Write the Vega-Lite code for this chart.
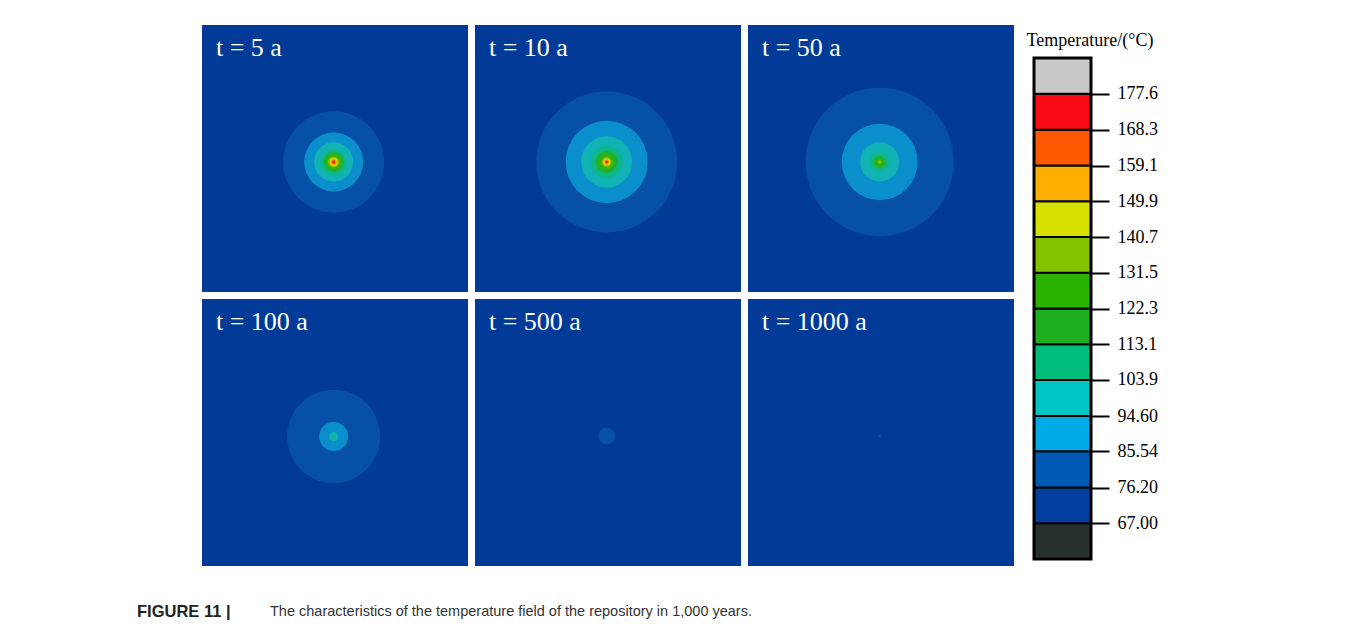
{
  "$schema": "https://vega.github.io/schema/vega-lite/v6.json",
  "background": "white",
  "padding": {"left": 137, "top": 25, "right": 0, "bottom": 0},
  "config": {
    "view": {"stroke": null},
    "header": {"labels": false, "title": null, "labelPadding": 0, "titlePadding": 0, "labelFontSize": 0, "labelColor": "transparent", "labelExpr": "''"},
    "headerFacet": {"labels": false, "title": null, "labelPadding": 0, "titlePadding": 0, "labelFontSize": 0, "labelColor": "transparent", "labelExpr": "''"}
  },
  "spacing": 36,
  "vconcat": [
    {
      "spacing": 12,
      "resolve": {"scale": {"color": "independent"}},
      "hconcat": [
        {
          "width": 53,
          "height": 20,
          "data": {"values": []},
          "mark": "point",
          "encoding": {}
        },
        {
          "data": {
            "values": [
              {"panel": "t = 5 a", "level": "76.20", "cx": -0.01, "cy": -0.026, "d": 0.759},
              {"panel": "t = 5 a", "level": "85.54", "cx": -0.01, "cy": -0.026, "d": 0.444},
              {"panel": "t = 5 a", "level": "94.60", "cx": -0.01, "cy": -0.026, "d": 0.293},
              {"panel": "t = 5 a", "level": "103.9", "cx": -0.01, "cy": -0.026, "d": 0.195},
              {"panel": "t = 5 a", "level": "113.1", "cx": -0.01, "cy": -0.026, "d": 0.150},
              {"panel": "t = 5 a", "level": "122.3", "cx": -0.01, "cy": -0.026, "d": 0.113},
              {"panel": "t = 5 a", "level": "131.5", "cx": -0.01, "cy": -0.026, "d": 0.083},
              {"panel": "t = 5 a", "level": "140.7", "cx": -0.01, "cy": -0.026, "d": 0.060},
              {"panel": "t = 5 a", "level": "149.9", "cx": -0.01, "cy": -0.026, "d": 0.045},
              {"panel": "t = 5 a", "level": "159.1", "cx": -0.01, "cy": -0.026, "d": 0.030},
              {"panel": "t = 5 a", "level": "168.3", "cx": -0.01, "cy": -0.026, "d": 0.019},
              {"panel": "t = 10 a", "level": "76.20", "cx": -0.01, "cy": -0.026, "d": 1.060},
              {"panel": "t = 10 a", "level": "85.54", "cx": -0.01, "cy": -0.026, "d": 0.617},
              {"panel": "t = 10 a", "level": "94.60", "cx": -0.01, "cy": -0.026, "d": 0.383},
              {"panel": "t = 10 a", "level": "103.9", "cx": -0.01, "cy": -0.026, "d": 0.241},
              {"panel": "t = 10 a", "level": "113.1", "cx": -0.01, "cy": -0.026, "d": 0.165},
              {"panel": "t = 10 a", "level": "122.3", "cx": -0.01, "cy": -0.026, "d": 0.113},
              {"panel": "t = 10 a", "level": "131.5", "cx": -0.01, "cy": -0.026, "d": 0.075},
              {"panel": "t = 10 a", "level": "140.7", "cx": -0.01, "cy": -0.026, "d": 0.053},
              {"panel": "t = 10 a", "level": "149.9", "cx": -0.01, "cy": -0.026, "d": 0.038},
              {"panel": "t = 10 a", "level": "159.1", "cx": -0.01, "cy": -0.026, "d": 0.026},
              {"panel": "t = 10 a", "level": "168.3", "cx": -0.01, "cy": -0.026, "d": 0.015},
              {"panel": "t = 50 a", "level": "76.20", "cx": -0.01, "cy": -0.026, "d": 1.113},
              {"panel": "t = 50 a", "level": "85.54", "cx": -0.01, "cy": -0.026, "d": 0.571},
              {"panel": "t = 50 a", "level": "94.60", "cx": -0.01, "cy": -0.026, "d": 0.293},
              {"panel": "t = 50 a", "level": "103.9", "cx": -0.01, "cy": -0.026, "d": 0.150},
              {"panel": "t = 50 a", "level": "113.1", "cx": -0.01, "cy": -0.026, "d": 0.090},
              {"panel": "t = 50 a", "level": "122.3", "cx": -0.01, "cy": -0.026, "d": 0.053},
              {"panel": "t = 50 a", "level": "131.5", "cx": -0.01, "cy": -0.026, "d": 0.026},
              {"panel": "t = 100 a", "level": "76.20", "cx": -0.01, "cy": -0.03, "d": 0.699},
              {"panel": "t = 100 a", "level": "85.54", "cx": -0.01, "cy": -0.03, "d": 0.218},
              {"panel": "t = 100 a", "level": "94.60", "cx": -0.01, "cy": -0.03, "d": 0.068},
              {"panel": "t = 100 a", "level": "103.9", "cx": -0.01, "cy": -0.03, "d": 0.030},
              {"panel": "t = 500 a", "level": "76.20", "cx": -0.01, "cy": -0.026, "d": 0.128},
              {"panel": "t = 1000 a", "level": "76.20", "cx": -0.01, "cy": -0.026, "d": 0.023}
            ]
          },
          "facet": {
            "field": "panel",
            "type": "nominal",
            "sort": ["t = 5 a", "t = 10 a", "t = 50 a", "t = 100 a", "t = 500 a", "t = 1000 a"],
            "header": {"labels": false, "title": null, "labelPadding": 0, "labelFontSize": 0, "labelColor": "transparent", "labelExpr": "''"}
          },
          "columns": 3,
          "spacing": {"row": 7, "column": 7},
          "spec": {
            "width": 266,
            "height": 267,
            "view": {"fill": "#023A98", "stroke": null},
            "layer": [
              {
                "mark": {"type": "point", "shape": "circle", "filled": true, "opacity": 1, "strokeWidth": 0},
                "encoding": {
                  "x": {"field": "cx", "type": "quantitative", "scale": {"domain": [-1, 1], "nice": false, "zero": false}, "axis": null},
                  "y": {"field": "cy", "type": "quantitative", "scale": {"domain": [-1, 1], "nice": false, "zero": false}, "axis": null},
                  "size": {"field": "d", "type": "quantitative", "scale": {"type": "pow", "exponent": 2, "domain": [0, 2], "range": [0, 70756]}, "legend": null},
                  "color": {
                    "field": "level",
                    "type": "nominal",
                    "scale": {
                      "domain": ["76.20", "85.54", "94.60", "103.9", "113.1", "122.3", "131.5", "140.7", "149.9", "159.1", "168.3"],
                      "range": ["#0650A8", "#0A8ECC", "#10B2B6", "#0DB888", "#22B030", "#30B410", "#88C000", "#D8DC00", "#F8A800", "#F85800", "#F01010"]
                    },
                    "legend": null
                  },
                  "order": {"field": "d", "sort": "descending"}
                }
              },
              {
                "transform": [{"aggregate": [{"op": "count", "as": "n"}], "groupby": ["panel"]}],
                "mark": {"type": "text", "align": "left", "baseline": "alphabetic", "font": "Liberation Serif", "fontSize": 26, "color": "white"},
                "encoding": {
                  "x": {"datum": -0.895, "type": "quantitative"},
                  "y": {"datum": 0.768, "type": "quantitative"},
                  "text": {"field": "panel"}
                }
              }
            ]
          }
        },
        {
          "width": 57,
          "height": 534,
          "data": {
            "values": [
              {"band": "57.80", "lo": 57.8, "hi": 67.0},
              {"band": "67.00", "lo": 67.0, "hi": 76.2},
              {"band": "76.20", "lo": 76.2, "hi": 85.54},
              {"band": "85.54", "lo": 85.54, "hi": 94.6},
              {"band": "94.60", "lo": 94.6, "hi": 103.9},
              {"band": "103.9", "lo": 103.9, "hi": 113.1},
              {"band": "113.1", "lo": 113.1, "hi": 122.3},
              {"band": "122.3", "lo": 122.3, "hi": 131.5},
              {"band": "131.5", "lo": 131.5, "hi": 140.7},
              {"band": "140.7", "lo": 140.7, "hi": 149.9},
              {"band": "149.9", "lo": 149.9, "hi": 159.1},
              {"band": "159.1", "lo": 159.1, "hi": 168.3},
              {"band": "168.3", "lo": 168.3, "hi": 177.6},
              {"band": "177.6", "lo": 177.6, "hi": 186.8}
            ]
          },
          "title": {
            "text": "Temperature/(°C)",
            "anchor": "start",
            "dx": -6,
            "offset": -39,
            "baseline": "alphabetic",
            "font": "Liberation Serif",
            "fontSize": 18,
            "fontWeight": "normal",
            "color": "black"
          },
          "layer": [
            {
              "mark": {"type": "rect", "stroke": "black", "strokeWidth": 2},
              "encoding": {
                "x": {"datum": 0, "type": "quantitative", "scale": {"domain": [0, 1], "nice": false}, "axis": null},
                "x2": {"datum": 1},
                "y": {
                  "field": "lo",
                  "type": "quantitative",
                  "scale": {"domain": [57.8, 195.3], "nice": false, "zero": false},
                  "axis": {
                    "orient": "right",
                    "values": [67, 76.2, 85.54, 94.6, 103.9, 113.1, 122.3, 131.5, 140.7, 149.9, 159.1, 168.3, 177.6],
                    "format": ".4r",
                    "tickSize": 18,
                    "tickWidth": 2,
                    "tickColor": "black",
                    "domain": false,
                    "grid": false,
                    "labelFont": "Liberation Serif",
                    "labelFontSize": 18,
                    "labelColor": "black",
                    "labelPadding": 8,
                    "labelFlush": false,
                    "labelOverlap": false,
                    "title": null
                  }
                },
                "y2": {"field": "hi"},
                "color": {
                  "field": "band",
                  "type": "nominal",
                  "scale": {
                    "domain": ["57.80", "67.00", "76.20", "85.54", "94.60", "103.9", "113.1", "122.3", "131.5", "140.7", "149.9", "159.1", "168.3", "177.6"],
                    "range": ["#283030", "#003EA0", "#005AB4", "#00AAE4", "#00C6C6", "#00BE7A", "#1EAF1E", "#2AB400", "#84C200", "#D8E000", "#FDAE00", "#FC5800", "#FA0C16", "#C8C8C8"]
                  },
                  "legend": null
                }
              }
            },
            {
              "transform": [{"aggregate": [{"op": "min", "field": "lo", "as": "lo"}, {"op": "max", "field": "hi", "as": "hi"}]}],
              "mark": {"type": "rect", "filled": false, "stroke": "black", "strokeWidth": 3},
              "encoding": {
                "x": {"datum": 0, "type": "quantitative"},
                "x2": {"datum": 1},
                "y": {"field": "lo", "type": "quantitative"},
                "y2": {"field": "hi"}
              }
            }
          ]
        }
      ]
    },
    {
      "width": 617,
      "height": 20,
      "data": {"values": [{"tag": "FIGURE 11 |", "body": "The characteristics of the temperature field of the repository in 1,000 years."}]},
      "layer": [
        {
          "mark": {"type": "text", "align": "left", "baseline": "middle", "font": "Liberation Sans Narrow, Arial Narrow, Liberation Sans", "fontSize": 16.5, "fontWeight": "bold", "color": "#222222"},
          "encoding": {
            "x": {"datum": 0, "type": "quantitative", "scale": {"domain": [0, 617], "nice": false}, "axis": null},
            "text": {"field": "tag"}
          }
        },
        {
          "mark": {"type": "text", "align": "left", "baseline": "middle", "font": "Liberation Sans Narrow, Arial Narrow, Liberation Sans", "fontSize": 14.5, "color": "#333333"},
          "encoding": {
            "x": {"datum": 133, "type": "quantitative"},
            "text": {"field": "body"}
          }
        }
      ]
    }
  ]
}
